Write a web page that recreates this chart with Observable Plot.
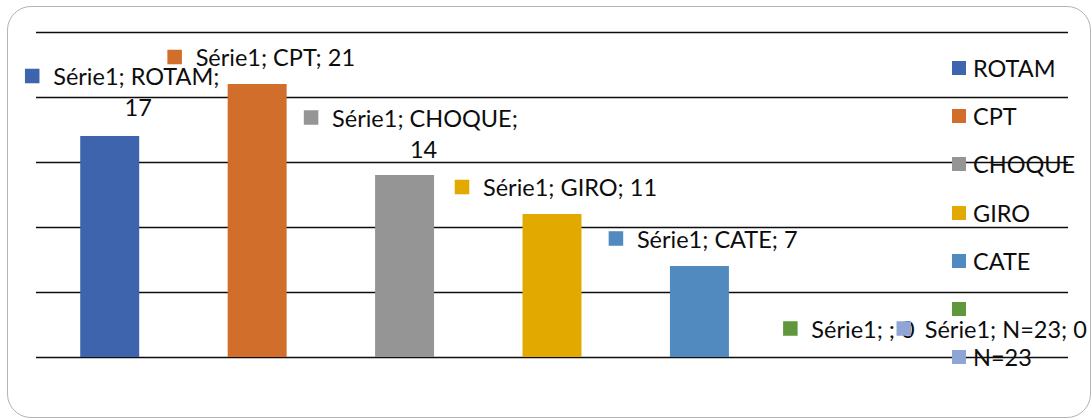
<!DOCTYPE html>
<html>
<head>
<meta charset="utf-8">
<script src="https://cdn.jsdelivr.net/npm/d3@7"></script>
<script src="https://cdn.jsdelivr.net/npm/@observablehq/plot@0.6"></script>
<style>
  html, body { margin: 0; padding: 0; background: #fff; }
  #wrap { position: relative; width: 1092px; height: 419px; overflow: hidden; font-family: Lato, sans-serif; }
  #frame { position: absolute; left: 7px; top: 6px; width: 1084px; height: 412px; border: 1.3px solid #b3b3b3; border-radius: 24px; box-sizing: border-box; pointer-events: none; }
  #chart { position: absolute; left: 0; top: 0; }
  .leg { position: absolute; left: 952px; height: 16px; display: flex; align-items: center; font-size: 23.5px; color: #0d0d0d; white-space: nowrap; }
  .leg .sw { width: 14px; height: 14px; margin-right: 7px; flex: none; }
</style>
</head>
<body>
<div id="wrap">
  <div id="frame"></div>
  <div id="chart"></div>
</div>
<script>
// ---- data ----
const seriesName = "Série1";
const categories = ["ROTAM", "CPT", "CHOQUE", "GIRO", "CATE", "", "N=23"];
const values = [17, 21, 14, 11, 7, 0, 0];
const gridTicks = [0, 5, 10, 15, 20, 25];

// ---- styling ----
const colors = ["#3E64AD", "#D26E2B", "#959595", "#E2AA00", "#508ABE", "#5F983C", "#8FA5D5"];
// label square offset (px) from bar top-centre, and whether label wraps
const labelOffsets = [[-78, -60.5], [-83, -27.5], [-94, -58], [-90.5, -27.5], [-84, -28], [-57, -29], [-91, -29]];
const labelWrap = [true, false, true, false, false, false, false];
const wrapCenter = [106, 0, 112.5, 0, 0, 0, 0];
const FS = 23.5;

const data = categories.map((c, i) => ({cat: c, value: values[i], i}));

const marks = [
  Plot.ruleY(gridTicks, {stroke: "#0d0d0d", strokeWidth: 1.3}),
  Plot.barY(data, {x: "cat", y: "value", fill: "cat"})
];

data.forEach((d, i) => {
  const [ox, oy] = labelOffsets[i];
  const one = [d];
  marks.push(Plot.dot(one, {x: "cat", y: "value", symbol: "square", r: 8.2, fill: colors[i], stroke: null, dx: ox, dy: oy}));
  const line1 = labelWrap[i] ? `${seriesName}; ${d.cat};` : `${seriesName}; ${d.cat}; ${d.value}`;
  marks.push(Plot.text(one, {x: "cat", y: "value", text: () => line1, textAnchor: "start", dx: ox + 21, dy: oy + 1.5, fill: "#0d0d0d", fontSize: FS}));
  if (labelWrap[i]) {
    marks.push(Plot.text(one, {x: "cat", y: "value", text: (e) => String(e.value), textAnchor: "middle", dx: ox + wrapCenter[i], dy: oy + 1.5 + 31, fill: "#0d0d0d", fontSize: FS}));
  }
});

const chart = Plot.plot({
  width: 1092,
  height: 419,
  marginLeft: 36,
  marginRight: 24,
  marginTop: 32,
  marginBottom: 62,
  style: {fontFamily: "Lato, sans-serif", background: "transparent", overflow: "visible"},
  x: {domain: categories, paddingInner: 0.6, paddingOuter: 0.3, round: false, axis: null},
  y: {domain: [0, 25], axis: null},
  color: {domain: categories, range: colors},
  marks
});
document.getElementById("chart").appendChild(chart);

// legend
const wrap = document.getElementById("wrap");
categories.forEach((c, i) => {
  const el = document.createElement("div");
  el.className = "leg";
  el.style.top = (68 + 48.2 * i - 8) + "px";
  const sw = document.createElement("span");
  sw.className = "sw";
  sw.style.background = colors[i];
  const tx = document.createElement("span");
  tx.textContent = c;
  el.appendChild(sw);
  el.appendChild(tx);
  wrap.appendChild(el);
});
</script>
</body>
</html>
